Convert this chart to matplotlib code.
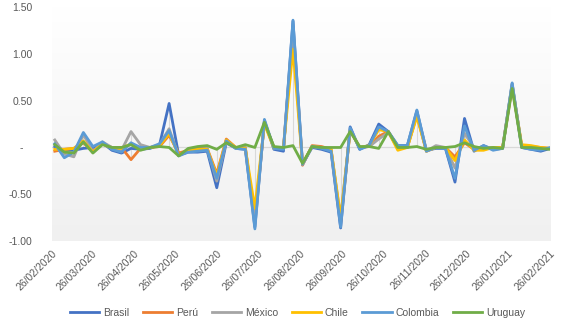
import numpy as np
import pandas as pd
import matplotlib
matplotlib.use("Agg")
import matplotlib.pyplot as plt
import matplotlib.dates as mdates
import matplotlib.ticker as mticker

plt.rcParams['font.family'] = ['Liberation Sans', 'DejaVu Sans']

# weekly observations
fechas = pd.date_range("2020-02-28", periods=53, freq="7D")

brasil = [0.01, -0.03, -0.03, -0.01, 0.00, 0.05, -0.03, -0.06, -0.01, -0.02,
          -0.01, 0.03, 0.47, -0.08, -0.05, -0.05, -0.04, -0.43, 0.05, -0.01,
          -0.02, -0.85, 0.29, -0.02, -0.04, 1.35, -0.18, 0.00, -0.02, -0.05,
          -0.86, 0.22, -0.02, 0.03, 0.25, 0.17, 0.02, 0.02, 0.39, -0.03,
          -0.01, -0.01, -0.37, 0.31, -0.04, 0.02, -0.02, -0.01, 0.68, 0.00,
          -0.02, -0.04, -0.01]
peru = [-0.04, -0.02, -0.01, 0.05, -0.04, 0.04, 0.00, 0.00, -0.13, -0.01,
        0.00, 0.01, 0.13, -0.06, -0.03, -0.01, -0.01, -0.28, 0.09, 0.00,
        0.00, -0.78, 0.27, 0.00, -0.01, 1.25, -0.19, 0.02, 0.01, -0.02,
        -0.80, 0.18, 0.00, 0.01, 0.12, 0.17, -0.01, 0.00, 0.35, -0.04,
        0.00, 0.00, -0.10, 0.05, -0.02, -0.02, 0.00, 0.00, 0.65, 0.02,
        0.01, 0.00, -0.01]
mexico = [0.08, -0.07, -0.10, 0.14, -0.05, 0.06, 0.00, -0.03, 0.17, 0.03,
          0.00, 0.03, 0.20, -0.09, -0.04, -0.02, -0.01, -0.36, 0.07, -0.01,
          0.00, -0.80, 0.27, 0.00, -0.01, 1.28, -0.18, 0.01, 0.00, -0.03,
          -0.75, 0.19, 0.00, 0.01, 0.09, 0.16, 0.00, 0.00, 0.35, -0.04,
          0.02, 0.00, -0.22, 0.15, 0.00, 0.00, 0.00, 0.00, 0.68, 0.01,
          0.00, -0.01, -0.01]
chile = [-0.02, -0.02, -0.01, 0.07, -0.05, 0.04, -0.01, -0.01, 0.04, -0.02,
         0.00, 0.02, 0.15, -0.08, -0.04, -0.02, -0.02, -0.30, 0.08, 0.00,
         -0.01, -0.65, 0.25, -0.01, 0.00, 1.05, -0.17, 0.01, 0.00, -0.02,
         -0.75, 0.18, 0.00, 0.02, 0.19, 0.17, -0.03, 0.00, 0.33, -0.04,
         0.00, 0.00, -0.14, 0.08, -0.03, -0.03, 0.00, 0.00, 0.66, 0.03,
         0.02, 0.00, -0.01]
colombia = [0.04, -0.11, -0.05, 0.16, 0.01, 0.06, -0.02, -0.05, 0.05, 0.00,
            0.00, 0.04, 0.18, -0.09, -0.05, -0.04, -0.03, -0.33, 0.07, -0.01,
            -0.02, -0.87, 0.30, -0.01, -0.02, 1.36, -0.18, 0.01, -0.01, -0.04,
            -0.85, 0.21, -0.02, 0.02, 0.22, 0.17, 0.02, 0.02, 0.40, -0.04,
            0.00, -0.01, -0.33, 0.23, -0.03, 0.02, -0.03, -0.01, 0.69, 0.00,
            -0.02, -0.03, 0.00]
uruguay = [0.03, -0.05, -0.06, 0.06, -0.06, 0.03, 0.00, 0.00, 0.03, -0.03,
           0.00, 0.01, 0.00, -0.09, -0.01, 0.01, 0.02, -0.02, 0.05, 0.00,
           0.03, 0.00, 0.27, 0.01, 0.00, 0.02, -0.17, 0.01, 0.00, 0.00,
           0.00, 0.17, 0.01, 0.01, -0.01, 0.17, 0.00, 0.00, 0.01, -0.02,
           0.00, 0.00, 0.01, 0.05, 0.01, -0.01, 0.00, -0.01, 0.63, 0.00,
           0.00, -0.01, -0.02]

paises = ["Brasil", "Perú", "México", "Chile", "Colombia", "Uruguay"]
series = [brasil, peru, mexico, chile, colombia, uruguay]
colores = ["#4472C4", "#ED7D31", "#A5A5A5", "#FFC000", "#5B9BD5", "#70AD47"]

etiquetas_x = pd.date_range("2020-02-01", "2021-02-01", freq="MS") + pd.Timedelta(days=25)

fig = plt.figure(figsize=(5.72, 3.21), dpi=100)
ax = fig.add_axes([0.091, 0.249, 0.871, 0.729])

x0 = mdates.date2num(pd.Timestamp("2020-02-26"))
x1 = mdates.date2num(pd.Timestamp("2021-02-26"))
ax.set_xlim(x0, x1)
ax.set_ylim(-1.0, 1.5)

# gradient background like the excel plot area (white top, light grey bottom)
grad = np.linspace(0, 1, 256).reshape(-1, 1)
ax.imshow(grad, extent=[x0, x1, -1.0, 1.5], aspect="auto", zorder=0,
          cmap=matplotlib.colors.LinearSegmentedColormap.from_list("g", ["#ffffff", "#f0f0f0"]),
          vmin=0, vmax=1, origin="upper")

# high-low lines
datos = np.array(series)
ax.vlines(fechas, datos.min(axis=0), datos.max(axis=0), color="#d9d9d9", lw=0.8, zorder=1)
ax.axhline(0, color="#d9d9d9", lw=0.9, zorder=1)

for nombre, valores, c in zip(paises, series, colores):
    ax.plot(fechas, valores, color=c, lw=2.0, label=nombre, zorder=2,
            solid_joinstyle="round")

ax.set_yticks([-1.0, -0.5, 0.0, 0.5, 1.0, 1.5])
ax.yaxis.set_major_formatter(mticker.FuncFormatter(lambda v, p: "-   " if abs(v) < 1e-9 else f"{v:.2f}"))
ax.set_xticks(mdates.date2num(etiquetas_x))
ax.set_xticklabels([d.strftime("%d/%m/%Y") for d in etiquetas_x], rotation=45,
                   ha="right", rotation_mode="anchor")
ax.tick_params(axis="both", length=0, labelsize=7.5, colors="#595959")
ax.tick_params(axis="y", pad=14)
ax.tick_params(axis="x", pad=5)
for s in ax.spines.values():
    s.set_visible(False)

fig.legend(loc="lower center", ncol=6, frameon=False, fontsize=7.5,
           bbox_to_anchor=(0.52, -0.02), handlelength=2.8, columnspacing=1.3,
           handletextpad=0.4, labelcolor="#595959")

fig.savefig("out.png", dpi=100)
